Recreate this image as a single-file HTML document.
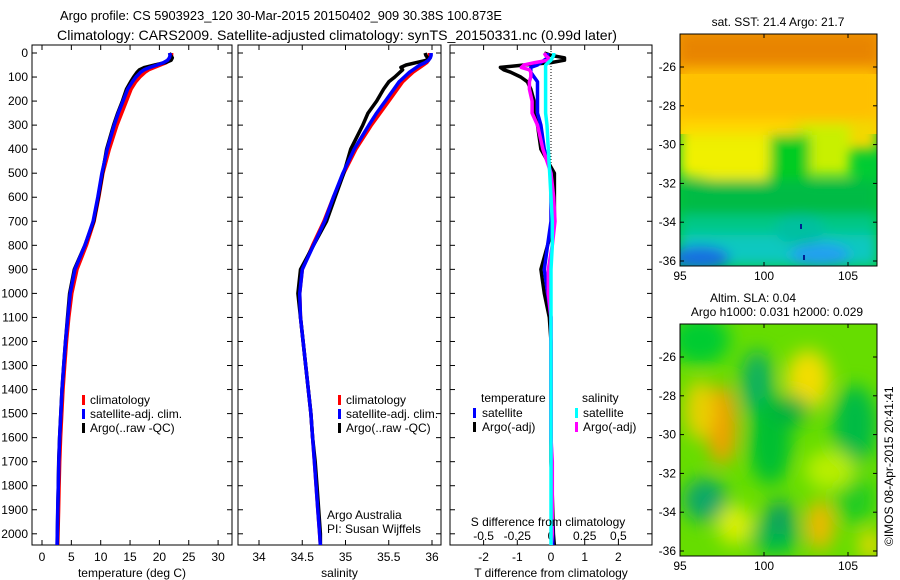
<!DOCTYPE html>
<html><head><meta charset="utf-8">
<style>
html,body{margin:0;padding:0;background:#fff;}
svg{display:block;font-family:"Liberation Sans",sans-serif;}
text{fill:#000;}
</style></head>
<body>
<svg id="fig" width="900" height="580" viewBox="0 0 900 580">
<defs>
<filter id="blur1" x="-20%" y="-20%" width="140%" height="140%"><feGaussianBlur stdDeviation="6"/></filter>
<filter id="blur2" x="-30%" y="-30%" width="160%" height="160%"><feGaussianBlur stdDeviation="9"/></filter>
<clipPath id="clipTop"><rect x="680" y="34" width="197" height="232"/></clipPath>
<clipPath id="clipBot"><rect x="680" y="324" width="197" height="232"/></clipPath>
<clipPath id="clipP1"><rect x="32" y="45" width="200" height="500"/></clipPath>
<clipPath id="clipP2"><rect x="238" y="45" width="203" height="500"/></clipPath>
<clipPath id="clipP3"><rect x="450" y="45" width="202" height="500"/></clipPath>
</defs>
<text x="60" y="20" font-size="13" textLength="442" lengthAdjust="spacingAndGlyphs">Argo profile: CS 5903923_120 30-Mar-2015 20150402_909 30.38S 100.873E</text>
<text x="57" y="40" font-size="14" textLength="560" lengthAdjust="spacingAndGlyphs">Climatology: CARS2009. Satellite-adjusted climatology: synTS_20150331.nc (0.99d later)</text>
<g id="axes"></g>
<g id="maps">
 <g clip-path="url(#clipTop)">
  <rect x="680" y="34" width="197" height="232" fill="#00cc33"/>
  <rect x="680" y="34" width="197" height="100" fill="#ffcc00"/>
  <rect x="680" y="34" width="197" height="40" fill="#f29a00"/>
  <g filter="url(#blur1)">
   <rect x="680" y="34" width="197" height="30" fill="#e88400"/>
   <rect x="680" y="70" width="197" height="60" fill="#ffc000"/>
   <rect x="680" y="120" width="110" height="30" fill="#ffd800"/>
   <rect x="680" y="135" width="95" height="35" fill="#e6ee00"/>
   <polygon points="680,140 770,140 768,190 760,200 748,210 740,215 745,185 680,175" fill="#f0f000"/>
   <rect x="790" y="120" width="87" height="30" fill="#f2d800"/>
   <rect x="800" y="125" width="50" height="50" fill="#c8f000"/>
   <rect x="770" y="135" width="40" height="60" fill="#00cc22"/>
   <rect x="680" y="180" width="197" height="40" fill="#00bb44"/>
   <rect x="680" y="215" width="197" height="25" fill="#00c888"/>
   <rect x="680" y="235" width="197" height="31" fill="#10c8c0"/>
   <ellipse cx="700" cy="258" rx="30" ry="12" fill="#1870e0"/>
   <ellipse cx="820" cy="255" rx="30" ry="12" fill="#20a0f0"/>
   <ellipse cx="800" cy="230" rx="25" ry="15" fill="#00c0a0"/>
  </g>
  <rect x="800" y="224" width="2" height="5" fill="#002090"/>
  <rect x="803" y="255" width="2" height="5" fill="#002090"/>
 </g>
 <rect x="680" y="34" width="197" height="232" fill="none" stroke="#000" stroke-width="1"/>
 <g clip-path="url(#clipBot)">
  <rect x="680" y="324" width="197" height="232" fill="#66dd00"/>
  <g filter="url(#blur2)">
   <ellipse cx="700" cy="340" rx="30" ry="25" fill="#00cc33"/>
   <ellipse cx="757" cy="385" rx="16" ry="35" fill="#10b060"/>
   <ellipse cx="808" cy="380" rx="22" ry="30" fill="#f2dd00"/>
   <ellipse cx="855" cy="425" rx="22" ry="40" fill="#00bb44"/>
   <ellipse cx="722" cy="425" rx="15" ry="40" fill="#f0a000"/>
   <ellipse cx="700" cy="410" rx="15" ry="30" fill="#e8d000"/>
   <ellipse cx="770" cy="440" rx="22" ry="45" fill="#00c030"/>
   <ellipse cx="790" cy="410" rx="20" ry="15" fill="#00b040"/>
   <ellipse cx="705" cy="500" rx="22" ry="22" fill="#10a868"/>
   <ellipse cx="775" cy="535" rx="25" ry="20" fill="#00bb44"/>
   <ellipse cx="780" cy="518" rx="14" ry="18" fill="#10a060"/>
   <ellipse cx="820" cy="525" rx="14" ry="25" fill="#f0b800"/>
   <ellipse cx="855" cy="500" rx="20" ry="25" fill="#22cc22"/>
   <ellipse cx="830" cy="470" rx="25" ry="20" fill="#b8ee00"/>
   <ellipse cx="735" cy="525" rx="18" ry="20" fill="#d8ee00"/>
   <ellipse cx="870" cy="545" rx="10" ry="15" fill="#f2d800"/>
  </g>
 </g>
 <rect x="680" y="324" width="197" height="232" fill="none" stroke="#000" stroke-width="1"/>
 <text x="778" y="26" text-anchor="middle" font-size="12">sat. SST: 21.4 Argo: 21.7</text>
 <text x="753" y="302" text-anchor="middle" font-size="12">Altim. SLA: 0.04</text>
 <text x="777" y="316" text-anchor="middle" font-size="12">Argo h1000: 0.031 h2000: 0.029</text>
 <text transform="translate(893,546) rotate(-90)" font-size="12">©IMOS 08-Apr-2015 20:41:41</text>
</g>
<g id="profiles"></g>
<g id="legends">
 <g>
  <rect x="82" y="395" width="3" height="10" fill="#f00"/><text x="90" y="404" font-size="12">climatology</text>
  <rect x="82" y="409" width="3" height="10" fill="#00f"/><text x="90" y="418" font-size="12">satellite-adj. clim.</text>
  <rect x="82" y="423" width="3" height="10" fill="#000"/><text x="90" y="432" font-size="12">Argo(..raw -QC)</text>
 </g>
 <g>
  <rect x="338" y="395" width="3" height="10" fill="#f00"/><text x="346" y="404" font-size="12">climatology</text>
  <rect x="338" y="409" width="3" height="10" fill="#00f"/><text x="346" y="418" font-size="12">satellite-adj. clim.</text>
  <rect x="338" y="423" width="3" height="10" fill="#000"/><text x="346" y="432" font-size="12">Argo(..raw -QC)</text>
 </g>
 <g>
  <text x="481" y="402" font-size="12">temperature</text>
  <rect x="473" y="408" width="3" height="10" fill="#00f"/><text x="482" y="417" font-size="12">satellite</text>
  <rect x="473" y="422" width="3" height="10" fill="#000"/><text x="482" y="431" font-size="12">Argo(-adj)</text>
  <text x="582" y="402" font-size="12">salinity</text>
  <rect x="575" y="408" width="3" height="10" fill="#0ff"/><text x="583" y="417" font-size="12">satellite</text>
  <rect x="575" y="422" width="3" height="10" fill="#f0f"/><text x="583" y="431" font-size="12">Argo(-adj)</text>
 </g>
 <text x="327" y="519" font-size="12">Argo Australia</text>
 <text x="327" y="533" font-size="12">PI: Susan Wijffels</text>
 <text x="548" y="526" text-anchor="middle" font-size="12">S difference from climatology</text>
</g>
<script>
// ---- data ----
const depths   = [0,10,20,30,40,50,60,70,80,100,120,150,200,250,300,400,500,600,700,800,900,1000,1100,1200,1300,1400,1500,1600,1700,1800,1900,2000,2050];
const tempClim = [21.9,21.9,21.8,21.6,21.0,20.0,19.0,18.0,17.4,16.5,15.8,15.0,14.2,13.4,12.6,11.3,10.2,9.5,8.7,7.4,5.8,4.9,4.4,4.0,3.7,3.4,3.2,3.0,2.85,2.75,2.65,2.55,2.5];
const tempSat  = [21.8,21.8,21.7,21.4,20.7,19.6,18.4,17.4,16.8,16.0,15.4,14.6,13.8,13.0,12.3,11.1,10.2,9.5,8.7,7.3,5.6,4.8,4.4,4.0,3.7,3.4,3.2,3.0,2.87,2.77,2.68,2.6,2.55];
const tempArgo = [21.7,21.9,22.2,22.0,21.0,19.2,17.5,16.6,16.2,15.6,15.1,14.4,13.7,12.9,12.2,11.0,10.3,9.6,8.8,7.3,5.5,4.7,4.35,4.0,3.7,3.4,3.2,3.0,2.85,2.78,2.7,2.62,2.6];
const salClim  = [35.97,35.97,35.97,35.96,35.94,35.90,35.86,35.82,35.78,35.72,35.66,35.60,35.50,35.40,35.30,35.12,34.98,34.86,34.75,34.62,34.50,34.47,34.48,34.51,34.54,34.57,34.60,34.62,34.64,34.66,34.68,34.70,34.71];
const salSat   = [35.99,35.99,35.98,35.96,35.92,35.86,35.82,35.78,35.74,35.68,35.62,35.56,35.46,35.36,35.27,35.10,34.97,34.86,34.76,34.63,34.50,34.47,34.48,34.51,34.54,34.57,34.60,34.62,34.64,34.66,34.68,34.70,34.71];
const salArgo  = [35.92,35.93,35.95,35.94,35.82,35.70,35.64,35.66,35.63,35.57,35.50,35.44,35.36,35.26,35.20,35.06,34.98,34.88,34.78,34.63,34.48,34.45,34.48,34.51,34.54,34.57,34.60,34.62,34.65,34.67,34.69,34.71,34.71];
const depthTicks = [0,100,200,300,400,500,600,700,800,900,1000,1100,1200,1300,1400,1500,1600,1700,1800,1900,2000];
const tempTicks  = [0,5,10,15,20,25,30];
const salTicks   = [34,34.5,35,35.5,36];
const salTickLabels = ["34","34.5","35","35.5","36"];
const tdiffTicks = [-2,-1,0,1,2];
const sdiffTicks = [-0.5,-0.25,0,0.25,0.5];
const latTicks = [-26,-28,-30,-32,-34,-36];
const lonTicks = [95,100,105];

// ---- scales ----
const yTop=45, yBot=545;
const yD = d => 53 + d*0.2404;
const xT = t => 42 + t*5.87;
const xS = s => 259 + (s-34)*86.5;
const xTD = t => 551 + t*33.7;
const xSD = s => 551 + s*134.8;
const xLon = l => 680 + (l-95)*16.8;
const yLat = l => 67 + (-26-l)*19.4;

const NS='http://www.w3.org/2000/svg';
function mk(tag, attrs, parent){const e=document.createElementNS(NS,tag);for(const k in attrs)e.setAttribute(k,attrs[k]);parent.appendChild(e);return e;}
const axes=document.getElementById('axes');
const prof=document.getElementById('profiles');
const maps=document.getElementById('maps');

function panel(name,x0,x1,xticks,xlabels,xfn,xtitle,ylabels){
  const r=mk('rect',{x:x0,y:yTop,width:x1-x0,height:yBot-yTop,fill:'none',stroke:'#000','stroke-width':1},axes);
  
  
  depthTicks.forEach(d=>{
    const y=yD(d);
    mk('line',{x1:x0,x2:x0+5,y1:y,y2:y,stroke:'#000'},axes);
    mk('line',{x1:x1-5,x2:x1,y1:y,y2:y,stroke:'#000'},axes);
    if(ylabels){const t=mk('text',{x:x0-4,y:y+4,'text-anchor':'end','font-size':12},axes);t.textContent=d;
      
      }
  });
  xticks.forEach((v,i)=>{
    const x=xfn(v);
    mk('line',{x1:x,x2:x,y1:yBot,y2:yBot-5,stroke:'#000'},axes);
    mk('line',{x1:x,x2:x,y1:yTop,y2:yTop+5,stroke:'#000'},axes);
    const t=mk('text',{x:x,y:yBot+16,'text-anchor':'middle','font-size':12},axes);t.textContent=xlabels[i];
    
    
  });
  const tt=mk('text',{x:(x0+x1)/2,y:yBot+32,'text-anchor':'middle','font-size':12},axes);tt.textContent=xtitle;
  
  
}
panel('temperature-panel',32,232,tempTicks,tempTicks.map(String),xT,'temperature (deg C)',true);
panel('salinity-panel',238,441,salTicks,salTickLabels,xS,'salinity',false);
panel('difference-panel',450,652,tdiffTicks,tdiffTicks.map(String),xTD,'T difference from climatology',false);
sdiffTicks.forEach(v=>{
  const t=mk('text',{x:xSD(v),y:540,'text-anchor':'middle','font-size':12},axes);t.textContent=String(v);
  
  
});
const zl=mk('line',{x1:xTD(0),x2:xTD(0),y1:yTop,y2:yD(1000),stroke:'#000','stroke-dasharray':'1,2'},axes);



function line(name,vals,xfn,color,clip,dx){
  const pts=vals.map((v,i)=>(xfn(v)+(dx||0)).toFixed(1)+','+yD(depths[i]).toFixed(1)).join(' ');
  const p=mk('polyline',{points:pts,fill:'none',stroke:color,'stroke-width':3.5,'stroke-linejoin':'round','clip-path':'url(#'+clip+')'},prof);
  
  
}
line('temp-climatology-line',tempClim,xT,'#f00','clipP1',1);
line('temp-argo-line',tempArgo,xT,'#000','clipP1',0);
line('temp-satellite-line',tempSat,xT,'#00f','clipP1',0);
line('sal-climatology-line',salClim,xS,'#f00','clipP2',0);
line('sal-argo-line',salArgo,xS,'#000','clipP2',0);
line('sal-satellite-line',salSat,xS,'#00f','clipP2',0);
const tdSat=tempSat.map((v,i)=>v-tempClim[i]);
const tdArgo=tempArgo.map((v,i)=>v-tempClim[i]);
const sdSat=salSat.map((v,i)=>v-salClim[i]);
const sdArgo=salArgo.map((v,i)=>v-salClim[i]);
line('tdiff-argo-line',tdArgo,xTD,'#000','clipP3',0);
line('tdiff-satellite-line',tdSat,xTD,'#00f','clipP3',0);
line('sdiff-argo-line',sdArgo,xSD,'#f0f','clipP3',0);
line('sdiff-satellite-line',sdSat,xSD,'#0ff','clipP3',0);

[[34,266],[324,556]].forEach(([t,b],k)=>{
  const mname = k===0?'sst-map':'sla-map';
  latTicks.forEach(l=>{
    const y=yLat(l)+(k?290:0);
    mk('line',{x1:680,x2:684,y1:y,y2:y,stroke:'#000'},maps);
    mk('line',{x1:873,x2:877,y1:y,y2:y,stroke:'#000'},maps);
    const tx=mk('text',{x:676,y:y+4,'text-anchor':'end','font-size':12},maps);tx.textContent=String(l);
    
    
  });
  lonTicks.forEach(l=>{
    const x=xLon(l);
    mk('line',{x1:x,x2:x,y1:b,y2:b-4,stroke:'#000'},maps);
    mk('line',{x1:x,x2:x,y1:t,y2:t+4,stroke:'#000'},maps);
    const tx=mk('text',{x:x,y:b+14,'text-anchor':'middle','font-size':12},maps);tx.textContent=String(l);
    
    
  });
});
</script>
</svg>
</body></html>
